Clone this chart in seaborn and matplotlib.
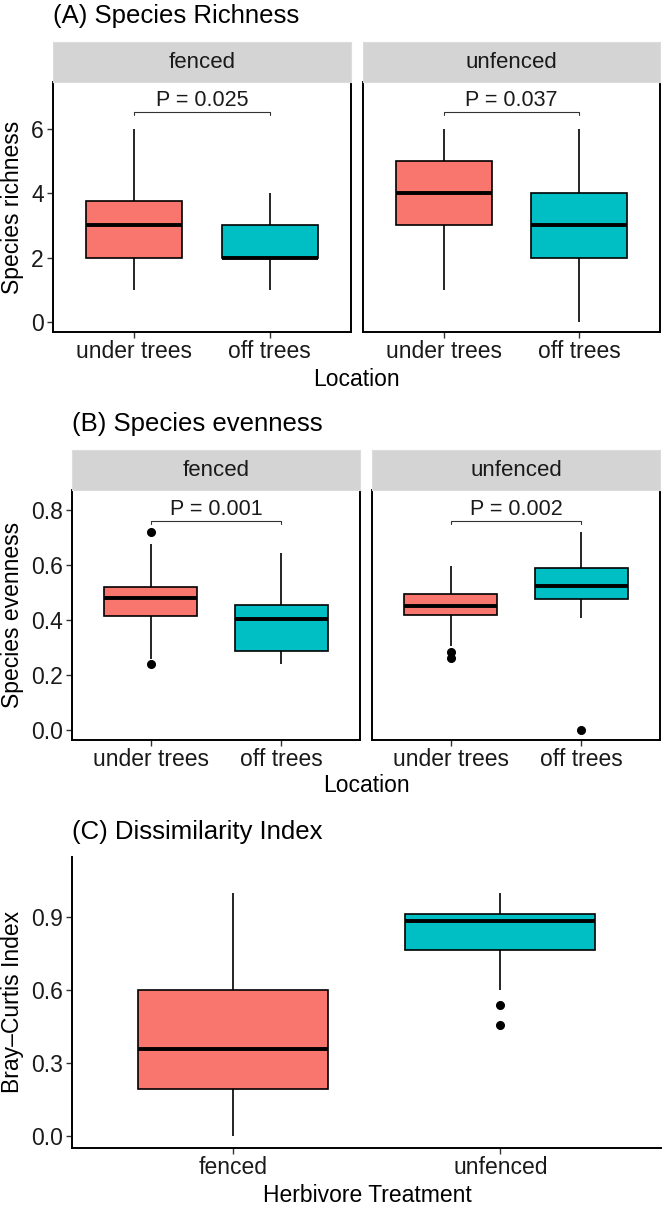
import numpy as np
import pandas as pd
import matplotlib.pyplot as plt
import seaborn as sns

# categories
locations = ["under trees", "off trees"]
treatments = ["fenced", "unfenced"]
loc_colors = {"under trees": "#F8766D", "off trees": "#00BFC4"}
trt_colors = {"fenced": "#F8766D", "unfenced": "#00BFC4"}

# samples (whisker ends, quartiles, medians, outliers)
rich_fenced_under = [1, 2, 3, 3.75, 6]
rich_fenced_off = [1, 2, 2, 3, 4]
rich_unfenced_under = [1, 3, 4, 5, 6]
rich_unfenced_off = [0, 2, 3, 4, 6]

even_fenced_under = [0.24, 0.26, 0.414, 0.45, 0.482, 0.50, 0.522, 0.678, 0.721]
even_fenced_off = [0.24, 0.287, 0.4025, 0.4545, 0.6425]
even_unfenced_under = [0.262, 0.285, 0.305, 0.418, 0.43, 0.44, 0.453,
                       0.46, 0.48, 0.495, 0.52, 0.56, 0.597]
even_unfenced_off = [0.0, 0.408, 0.4775, 0.50, 0.5225, 0.55, 0.590, 0.65, 0.721]

bc_fenced = [0.0, 0.19, 0.358, 0.60, 1.0]
bc_unfenced = [0.455, 0.538, 0.60, 0.766, 0.80, 0.85, 0.8835,
               0.89, 0.90, 0.913, 0.95, 0.98, 1.0]

# annotations
p_richness = ["P = 0.025", "P = 0.037"]
p_evenness = ["P = 0.001", "P = 0.002"]
bracket_richness = 6.52
bracket_evenness = 0.762


def long_df(groups):
    rows = []
    for (trt, loc), vals in groups.items():
        for v in vals:
            rows.append({"treatment": trt, "location": loc, "value": v})
    return pd.DataFrame(rows)


richness = long_df({
    ("fenced", "under trees"): rich_fenced_under,
    ("fenced", "off trees"): rich_fenced_off,
    ("unfenced", "under trees"): rich_unfenced_under,
    ("unfenced", "off trees"): rich_unfenced_off,
})
evenness = long_df({
    ("fenced", "under trees"): even_fenced_under,
    ("fenced", "off trees"): even_fenced_off,
    ("unfenced", "under trees"): even_unfenced_under,
    ("unfenced", "off trees"): even_unfenced_off,
})
dissim = pd.DataFrame({
    "treatment": ["fenced"] * len(bc_fenced) + ["unfenced"] * len(bc_unfenced),
    "value": bc_fenced + bc_unfenced,
})

sns.set_theme(style="ticks")
plt.rcParams["font.family"] = ["Liberation Sans", "DejaVu Sans"]

W, H = 664, 1209
fig = plt.figure(figsize=(W / 100, H / 100), dpi=100)


def px_axes(x0, y0, x1, y1, **kw):
    return fig.add_axes([x0 / W, 1 - y1 / H, (x1 - x0) / W, (y1 - y0) / H], **kw)


TICK_FS = 16.5
LABEL_FS = 16.5
TITLE_FS = 18.5
TEXT_COL = "#1a1a1a"

box_kw = dict(
    width=0.71, linecolor="black", linewidth=1.2, saturation=1,
    showcaps=False, dodge=False, legend=False,
    medianprops=dict(linewidth=2.8, color="black"),
    flierprops=dict(marker="o", markersize=5.5, markerfacecolor="black",
                    markeredgecolor="black"),
)


def style_axis(ax, ylim, yticks, yfmt, show_y):
    ax.set_xlim(-0.6, 1.6)
    ax.set_ylim(*ylim)
    ax.set_xlabel("")
    ax.set_ylabel("")
    ax.set_yticks(yticks)
    for s in ["left", "right", "bottom"]:
        ax.spines[s].set_visible(True)
        ax.spines[s].set_color("black")
        ax.spines[s].set_linewidth(1.4)
    ax.spines["top"].set_visible(False)
    ax.tick_params(axis="x", length=4, width=1, color="#333333", pad=2,
                   labelsize=TICK_FS, labelcolor=TEXT_COL)
    if show_y:
        ax.set_yticklabels([yfmt.format(t) for t in yticks])
        ax.tick_params(axis="y", length=4, width=1, color="#333333", pad=2.5,
                       labelsize=TICK_FS, labelcolor=TEXT_COL)
    else:
        ax.tick_params(axis="y", left=False, labelleft=False)
    ax.set_facecolor("white")


def strip(x0, y0, x1, y1, label):
    sax = px_axes(x0, y0, x1, y1)
    sax.set_facecolor("#D4D4D4")
    sax.set_xticks([])
    sax.set_yticks([])
    for s in sax.spines.values():
        s.set_color("#DCDCDC")
        s.set_linewidth(0.8)
    sax.text(0.5, 0.5, label, ha="center", va="center", fontsize=16,
             color=TEXT_COL, transform=sax.transAxes)


def bracket(ax, y, drop, label):
    ax.plot([0, 0, 1, 1], [y - drop, y, y, y - drop], color="#333333", lw=0.8)
    ax.text(0.5, y + drop * 0.2, label, ha="center", va="bottom",
            fontsize=15.5, color=TEXT_COL)


# ---- (A) Species Richness
facet_px_a = [(53, 351), (363, 660)]
for i, trt in enumerate(treatments):
    x0, x1 = facet_px_a[i]
    ax = px_axes(x0, 82, x1, 332)
    sub = richness[richness["treatment"] == trt]
    sns.boxplot(data=sub, x="location", y="value", hue="location",
                order=locations, hue_order=locations, palette=loc_colors,
                ax=ax, **box_kw)
    style_axis(ax, (-0.31, 7.45), [0, 2, 4, 6], "{:.0f}", i == 0)
    bracket(ax, bracket_richness, 0.09, p_richness[i])
    strip(x0, 42, x1, 82, trt)

fig.text(53 / W, 1 - 16 / H, "(A) Species Richness", ha="left", va="center",
         fontsize=TITLE_FS, color="black")
fig.text(13 / W, 1 - 207 / H, "Species richness", rotation=90, ha="center",
         va="center", fontsize=LABEL_FS, color="black")
fig.text(356 / W, 1 - 379 / H, "Location", ha="center", va="center",
         fontsize=LABEL_FS, color="black")

# ---- (B) Species evenness
facet_px_b = [(72, 360), (372, 660)]
for i, trt in enumerate(treatments):
    x0, x1 = facet_px_b[i]
    ax = px_axes(x0, 490, x1, 740)
    sub = evenness[evenness["treatment"] == trt]
    sns.boxplot(data=sub, x="location", y="value", hue="location",
                order=locations, hue_order=locations, palette=loc_colors,
                ax=ax, **box_kw)
    style_axis(ax, (-0.036, 0.873), [0.0, 0.2, 0.4, 0.6, 0.8], "{:.1f}", i == 0)
    bracket(ax, bracket_evenness, 0.011, p_evenness[i])
    strip(x0, 450, x1, 490, trt)

fig.text(72 / W, 1 - 424 / H, "(B) Species evenness", ha="left", va="center",
         fontsize=TITLE_FS, color="black")
fig.text(13 / W, 1 - 615 / H, "Species evenness", rotation=90, ha="center",
         va="center", fontsize=LABEL_FS, color="black")
fig.text(366 / W, 1 - 786 / H, "Location", ha="center", va="center",
         fontsize=LABEL_FS, color="black")

# ---- (C) Dissimilarity Index
ax = px_axes(72, 857, 661, 1148)
sns.boxplot(data=dissim, x="treatment", y="value", hue="treatment",
            order=treatments, hue_order=treatments, palette=trt_colors,
            ax=ax, **box_kw)
style_axis(ax, (-0.051, 1.147), [0.0, 0.3, 0.6, 0.9], "{:.1f}", True)
ax.spines["right"].set_visible(False)

fig.text(72 / W, 1 - 832 / H, "(C) Dissimilarity Index", ha="left", va="center",
         fontsize=TITLE_FS, color="black")
fig.text(13 / W, 1 - 1002 / H, "Bray\u2013Curtis Index", rotation=90,
         ha="center", va="center", fontsize=LABEL_FS, color="black")
fig.text(367 / W, 1 - 1196 / H, "Herbivore Treatment", ha="center",
         va="center", fontsize=LABEL_FS, color="black")

fig.savefig("out.png", dpi=100)
